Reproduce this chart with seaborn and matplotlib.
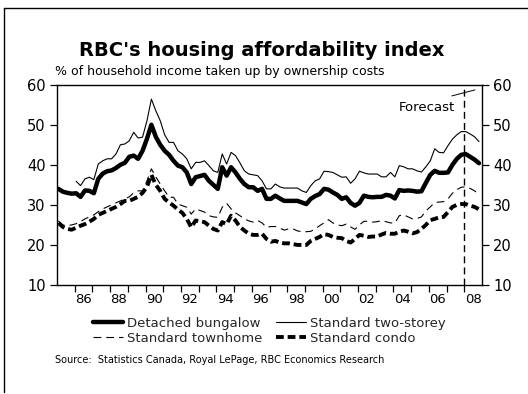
import numpy as np
import pandas as pd
import matplotlib
matplotlib.use("Agg")
import matplotlib.pyplot as plt
from matplotlib.lines import Line2D
import seaborn as sns

years = list(range(1985, 2009))

bungalow = [
    34.0, 33.3, 33.0, 32.8,
    32.9, 32.0, 33.6, 33.5,
    32.9, 36.5, 37.8, 38.4,
    38.6, 39.2, 40.0, 40.5,
    42.0, 42.3, 41.5, 43.5,
    46.5, 50.0, 47.0, 45.0,
    43.5, 42.5, 41.0, 39.8,
    39.4, 38.1, 35.2, 36.9,
    37.2, 37.5, 36.0, 35.0,
    34.0, 39.4, 37.3, 39.4,
    38.1, 36.5, 35.2, 34.4,
    34.4, 33.5, 34.0, 31.5,
    31.5, 32.3, 31.6, 31.0,
    31.0, 31.0, 31.0, 30.6,
    30.2, 31.5, 32.2, 32.7,
    34.0, 33.8, 33.1, 32.5,
    31.5, 31.9, 30.5, 29.8,
    30.5, 32.3, 32.0, 31.9,
    32.0, 32.0, 32.5, 32.3,
    31.6, 33.7, 33.5, 33.6,
    33.5, 33.3, 33.4, 35.5,
    37.5, 38.5, 38.0, 38.0,
    38.1, 40.0, 41.5, 42.5,
    42.7, 42.0, 41.3, 40.4,
]

two_storey = [
    np.nan, np.nan, np.nan, np.nan,
    35.9, 34.8, 36.5, 36.9,
    36.3, 40.2, 41.0, 41.5,
    41.5, 42.7, 45.0, 45.2,
    46.0, 48.1, 46.7, 46.9,
    51.0, 56.4, 53.5, 51.0,
    47.5, 45.6, 45.6, 43.5,
    42.7, 41.5, 39.0, 40.6,
    40.6, 41.0, 39.8, 38.5,
    38.1, 42.7, 40.2, 43.1,
    42.3, 40.5, 38.5, 37.7,
    37.5, 37.3, 36.0, 34.0,
    34.0, 35.2, 34.5, 34.2,
    34.2, 34.2, 34.2, 33.5,
    33.1, 34.8, 36.0, 36.5,
    38.4, 38.3, 38.1, 37.5,
    36.9, 37.0, 35.4, 36.5,
    38.4, 38.0, 37.7, 37.7,
    37.7, 37.0, 37.0, 38.1,
    37.0, 39.8, 39.5, 39.0,
    39.0, 38.5, 38.2, 39.5,
    41.0, 44.0, 43.1, 43.0,
    44.8, 46.4, 47.5, 48.3,
    48.3, 47.7, 47.0, 45.8,
]

townhome = [
    26.0, 25.0, 24.8, 25.0,
    25.3, 25.8, 26.5, 27.0,
    27.5, 28.3, 29.0, 29.5,
    30.0, 30.5, 31.0, 31.5,
    32.0, 33.0, 33.5, 33.5,
    36.0, 39.0, 37.0, 35.2,
    33.5, 31.9, 31.9, 30.2,
    29.8, 29.4, 27.7, 29.0,
    28.6, 28.2, 27.3, 27.0,
    26.9, 29.4, 30.4, 29.0,
    28.0, 27.3, 26.5, 26.0,
    25.7, 26.1, 25.5, 24.4,
    24.6, 24.6, 24.2, 23.7,
    24.0, 24.0, 23.5, 23.3,
    23.3, 23.4, 24.0, 24.8,
    25.5, 26.3, 25.5, 25.0,
    24.8, 25.2, 24.5, 23.9,
    25.0, 25.9, 25.9, 25.7,
    25.8, 26.1, 25.8, 25.5,
    25.5, 27.3, 27.5, 27.0,
    26.5, 26.6, 27.0, 28.5,
    29.5, 30.6, 30.7, 30.8,
    31.5, 32.9, 33.8, 34.4,
    34.5, 34.1, 33.5, 32.6,
]

condo = [
    25.5, 24.5, 24.0, 23.8,
    24.3, 24.8, 25.2, 25.8,
    26.5, 27.5, 28.0, 28.5,
    29.0, 29.5, 30.2, 31.0,
    31.0, 31.5, 32.0, 33.0,
    34.5, 37.5, 35.0, 33.5,
    31.5, 30.6, 29.8, 28.8,
    28.0, 26.5, 24.4, 26.1,
    25.9, 25.7, 24.8, 24.0,
    23.6, 25.7, 25.2, 27.3,
    26.1, 24.5, 23.6, 22.8,
    22.5, 22.5, 22.8, 21.5,
    20.8, 21.0, 20.6, 20.4,
    20.4, 20.2, 20.0, 20.0,
    20.0, 21.0, 21.5, 22.0,
    22.7, 22.5, 22.0, 21.8,
    21.7, 21.0, 20.6, 21.5,
    22.5, 22.3, 22.0, 22.1,
    22.1, 22.6, 23.0, 22.8,
    22.8, 23.3, 23.6, 23.3,
    22.9, 23.2, 24.0, 25.0,
    26.2, 26.5, 26.9, 27.0,
    28.2, 29.5, 30.0, 30.2,
    30.2, 29.8, 29.5, 28.9,
]

tick_labels = ["86", "88", "90", "92", "94", "96", "98", "00", "02", "04", "06", "08"]
label_years = [1986, 1988, 1990, 1992, 1994, 1996, 1998, 2000, 2002, 2004, 2006, 2008]
forecast_year = 2008

# quarterly positions
t = [y + (q - 1) / 4 + 0.08 for y in years for q in range(1, 5)]
df = pd.DataFrame({"t": t, "bungalow": bungalow, "two": two_storey,
                   "town": townhome, "condo": condo})

sns.set_theme(style="white")
plt.rcParams["font.family"] = ["DejaVu Sans"]

fig = plt.figure(figsize=(5.28, 3.94), dpi=100)
ax = fig.add_axes([57/528, 1 - 285/394, (482-57)/528, (285-84.7)/394])

sns.lineplot(data=df, x="t", y="bungalow", ax=ax, color="black", lw=3.2,
             label="Detached bungalow")
sns.lineplot(data=df.dropna(), x="t", y="two", ax=ax, color="black", lw=0.8,
             label="Standard two-storey")
sns.lineplot(data=df, x="t", y="town", ax=ax, color="black", lw=0.8,
             linestyle=(0, (7, 4.5)), label="Standard townhome")
sns.lineplot(data=df, x="t", y="condo", ax=ax, color="black", lw=2.8,
             linestyle=(0, (2, 1)), label="Standard condo")

ax.set_xlim(1985, 2009)
ax.set_ylim(10, 60)
ax.set_xlabel("")
ax.set_ylabel("")
ax.set_yticks([10, 20, 30, 40, 50, 60])
ax.set_xticks(list(range(1986, 2009)))
ax.set_xticklabels([])
ax.set_xticks([y + 0.5 for y in label_years], minor=True)
ax.set_xticklabels(tick_labels, minor=True)
ax.tick_params(axis="x", which="major", direction="out", length=5, width=0.9, color="black", bottom=True)
ax.tick_params(axis="x", which="minor", length=0, pad=6, labelsize=9.5, labelcolor="black")
ax.tick_params(axis="y", direction="out", length=5, width=0.9, color="black", left=True, labelsize=10.5, pad=3, labelcolor="black")
for s in ax.spines.values():
    s.set_color("black")
    s.set_linewidth(1.0)
    s.set_visible(True)

ax2 = ax.twinx()
ax2.set_ylim(10, 60)
ax2.set_yticks([10, 20, 30, 40, 50, 60])
ax2.tick_params(axis="y", direction="out", length=5, width=0.9, color="black", right=True, labelsize=10.5, pad=3, labelcolor="black")
ax2.grid(False)
for s in ax2.spines.values():
    s.set_visible(False)

ax.axvline(forecast_year, color="black", lw=1.0, linestyle=(0, (5, 3)))
ax.text(2007.5, 54.4, "Forecast", ha="right", va="center", fontsize=9.5, color="black")
ax.plot([2007.3, 2008.6], [57.2, 58.7], color="black", lw=0.7)
ax.grid(False)

handles, labels = ax.get_legend_handles_labels()
order = [0, 2, 1, 3]
leg = ax.legend([handles[i] for i in order], [labels[i] for i in order], ncol=2,
                loc="center", bbox_to_anchor=(0.51, 1 - 331/394), bbox_transform=fig.transFigure,
                frameon=False, fontsize=9.5, handlelength=2.3, handletextpad=0.3,
                columnspacing=1.0, labelspacing=0.15)

fig.text(0.495, 1 - 50/394, "RBC's housing affordability index", ha="center", va="center",
         fontsize=14, fontweight="bold", color="black")
fig.text(55/528, 1 - 71/394, "% of household income taken up by ownership costs", ha="left",
         va="center", fontsize=9, color="black")
fig.text(55/528, 1 - 360/394, "Source:  Statistics Canada, Royal LePage, RBC Economics Research",
         ha="left", va="center", fontsize=7, color="black")

fig.add_artist(Line2D([4/528, 4/528], [1 - 8/394, 1 - 392/394], transform=fig.transFigure, color="black", lw=1))
fig.add_artist(Line2D([4/528, 1.0], [1 - 8/394, 1 - 8/394], transform=fig.transFigure, color="black", lw=1))

fig.savefig("out.png", dpi=100)
